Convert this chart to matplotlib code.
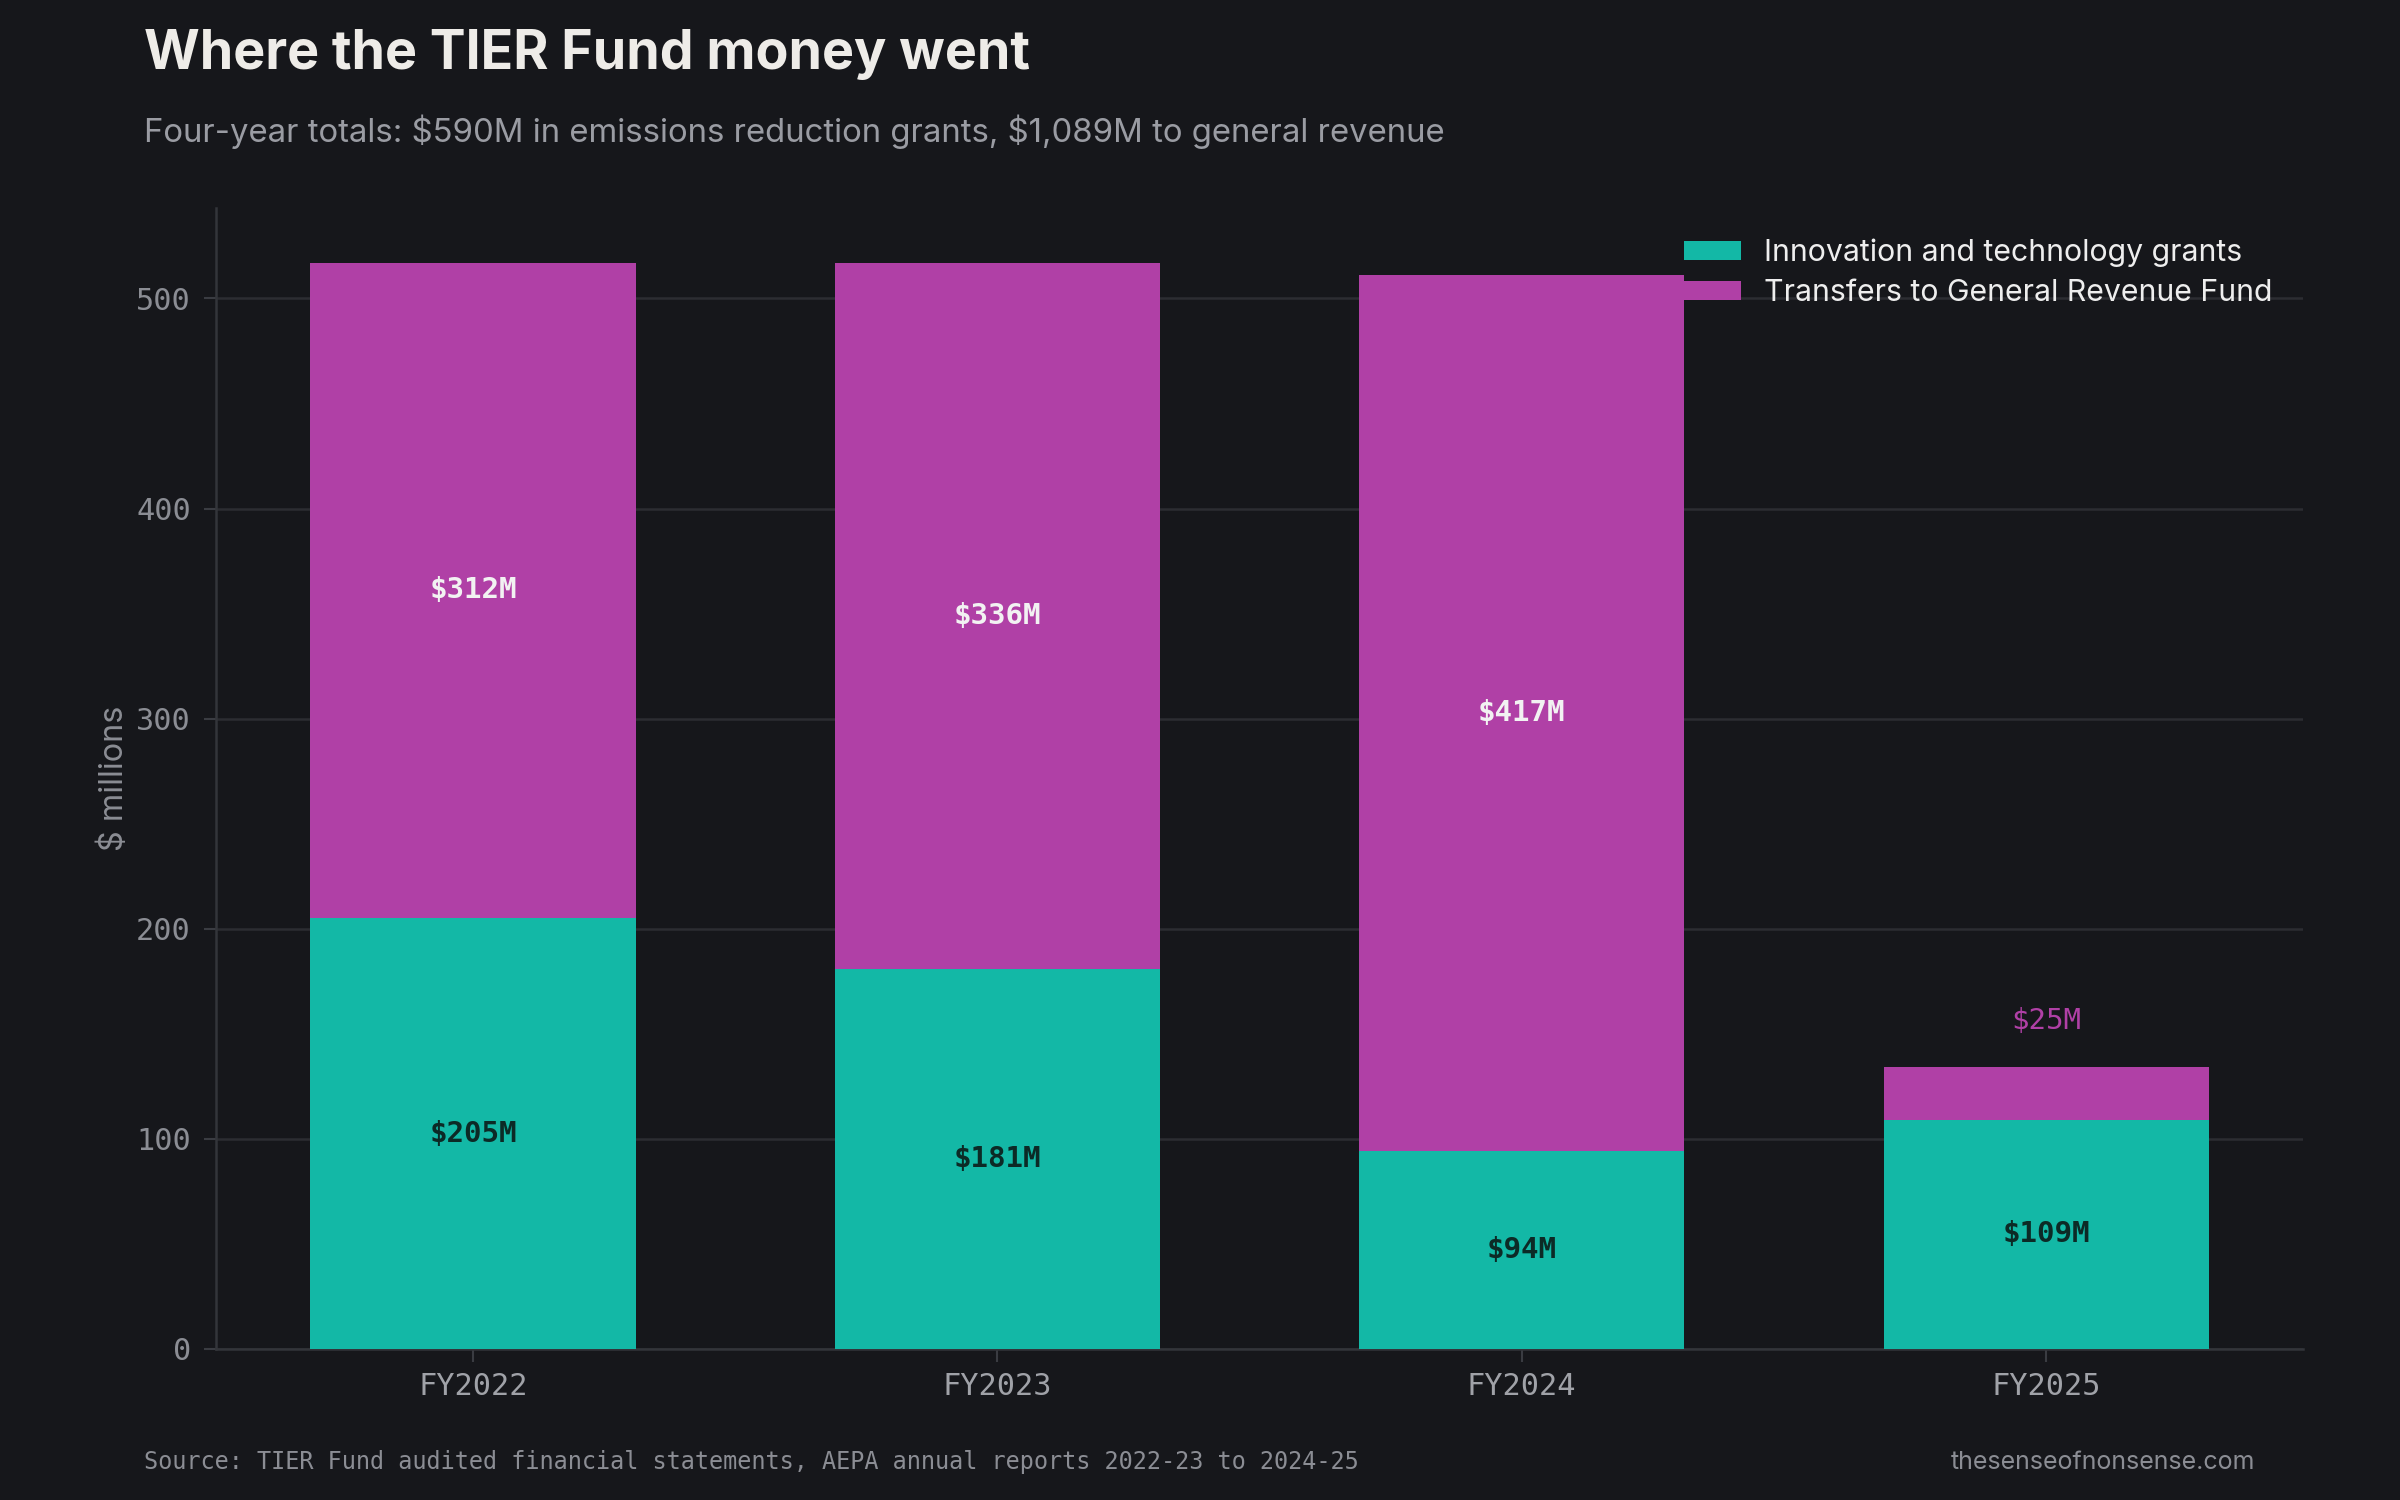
import matplotlib.pyplot as plt
import numpy as np

plt.rcParams['text.parse_math'] = False

# data
years = ['FY2022', 'FY2023', 'FY2024', 'FY2025']
grants = [205, 181, 94, 109]
transfers = [312, 336, 417, 25]

BG = '#16171b'
TEAL = '#13b8a6'
MAGENTA = '#b040a6'
GRID = '#2c2d32'
SANS = ['Inter', 'DejaVu Sans']
MONO = ['DejaVu Sans Mono']

fig = plt.figure(figsize=(16, 10), dpi=150, facecolor=BG)
ax = fig.add_axes([0.09, 0.1007, 0.8696, 0.7606])
ax.set_facecolor(BG)

x = np.arange(len(years))
w = 0.62
ax.bar(x, grants, width=w, color=TEAL, label='Innovation and technology grants', zorder=3)
ax.bar(x, transfers, width=w, bottom=grants, color=MAGENTA,
       label='Transfers to General Revenue Fund', zorder=3)

# segment labels
for i in range(len(years)):
    g, t = grants[i], transfers[i]
    ax.text(x[i], g / 2, f'${g}M', ha='center', va='center', fontsize=14,
            fontweight='bold', color='#0c2a26', family=MONO, zorder=4)
    if t >= 60:
        ax.text(x[i], g + t / 2, f'${t}M', ha='center', va='center', fontsize=14,
                fontweight='bold', color='#f2f2f2', family=MONO, zorder=4)
    else:
        ax.text(x[i], g + t + 22, f'${t}M', ha='center', va='center', fontsize=14,
                color=MAGENTA, family=MONO, zorder=4)

ax.set_xlim(-0.49, 3.49)
ax.set_ylim(0, 543)
ax.set_yticks([0, 100, 200, 300, 400, 500])
ax.set_xticks(x)
ax.set_xticklabels(years)
for lab in ax.get_xticklabels() + ax.get_yticklabels():
    lab.set_family(MONO)
    lab.set_fontsize(14.5)
ax.tick_params(axis='y', colors='#8b8d94', length=6, width=1, pad=6)
ax.tick_params(axis='x', colors='#a0a2a8', length=6, width=1, pad=5)
ax.tick_params(axis='both', which='both', color='#3a3c42')

ax.yaxis.grid(True, color=GRID, linewidth=1.2, zorder=0)
ax.set_axisbelow(True)
for s in ['top', 'right']:
    ax.spines[s].set_visible(False)
for s in ['left', 'bottom']:
    ax.spines[s].set_color('#33353a')
    ax.spines[s].set_linewidth(1.2)

ax.set_ylabel('$ millions', fontsize=15.5, color='#8b8d94', family=SANS, labelpad=3)

leg = ax.legend(loc='upper right', frameon=False, handlelength=1.9,
                handleheight=0.6, handletextpad=0.76, labelspacing=0.4,
                borderaxespad=0.6, prop={'family': SANS, 'size': 14.5})
for t in leg.get_texts():
    t.set_color('#eeeeee')

fig.text(0.06, 0.964, 'Where the TIER Fund money went', fontsize=25.8, fontweight='bold',
         color='#eeece8', family=SANS, ha='left', va='center')
fig.text(0.06, 0.912, 'Four-year totals: $590M in emissions reduction grants, $1,089M to general revenue',
         fontsize=15.8, color='#9a9ca3', family=SANS, ha='left', va='center')
fig.text(0.06, 0.025, 'Source: TIER Fund audited financial statements, AEPA annual reports 2022-23 to 2024-25',
         fontsize=11.3, color='#8b8d94', family=MONO, ha='left', va='center')
fig.text(0.9396, 0.025, 'thesenseofnonsense.com', fontsize=12, color='#8b8d94',
         family=SANS, ha='right', va='center')

fig.savefig('out.png', dpi=150, facecolor=BG)
